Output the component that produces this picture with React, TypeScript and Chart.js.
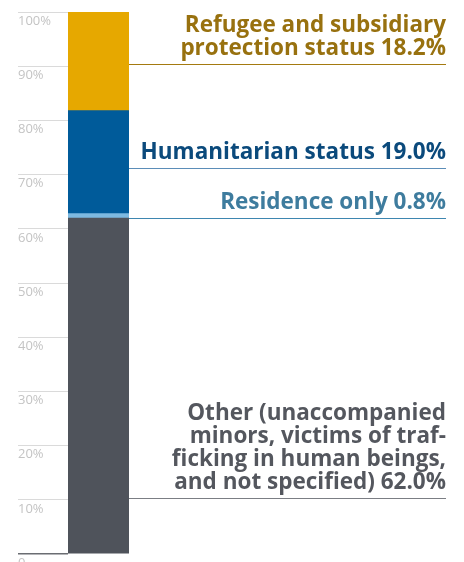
import { useEffect, useRef } from "react";
import { Chart, registerables } from "chart.js";

Chart.register(...registerables);

// ---- data ----
const categories = [""];
const seriesNames = [
  "Other",
  "Residence only",
  "Humanitarian status",
  "Refugee and subsidiary protection status",
];
const otherValues = [62.0];
const residenceValues = [0.8];
const humanitarianValues = [19.0];
const refugeeValues = [18.2];

const tickLabels = ["0", "10%", "20%", "30%", "40%", "50%", "60%", "70%", "80%", "90%", "100%"];

// callout texts (top to bottom) and the value at which each callout line sits
const calloutTexts = [
  ["Refugee and subsidiary", "protection status 18.2%"],
  ["Humanitarian status 19.0%"],
  ["Residence only 0.8%"],
  ["Other (unaccompanied", "minors, victims of traf-", "ficking in human beings,", "and not specified) 62.0%"],
];
const calloutAt = [90.4, 71.2, 62.0, 10.3];

// ---- styles ----
const barColors = ["#4F535B", "#7DB9E0", "#005B9A", "#E6A800"];
const textColors = ["#98710F", "#0B4A7C", "#3E7C9E", "#54575E"];
const lineColors = ["#A47A10", "#5B8DB8", "#3E86B0", "#7B7E84"];

const calloutPlugin = {
  id: "callouts",
  afterDatasetsDraw(chart: any) {
    const { ctx, chartArea, scales } = chart;
    const y = scales.y;
    const xEnd = 446;
    const lineH = 23;
    ctx.save();
    calloutTexts.forEach((lines, i) => {
      const py = Math.round(y.getPixelForValue(calloutAt[i])) + 0.5;
      ctx.strokeStyle = lineColors[i];
      ctx.lineWidth = 1.2;
      ctx.beginPath();
      ctx.moveTo(chartArea.right, py);
      ctx.lineTo(xEnd, py);
      ctx.stroke();
      ctx.fillStyle = textColors[i];
      ctx.font = "bold 22.5px 'Open Sans', sans-serif";
      ctx.textAlign = "right";
      ctx.textBaseline = "alphabetic";
      const n = lines.length;
      lines.forEach((t, j) => {
        ctx.fillText(t, xEnd, py - 9.5 - (n - 1 - j) * lineH);
      });
    });
    ctx.restore();
  },
};

export default function App() {
  const ref = useRef<HTMLCanvasElement | null>(null);
  useEffect(() => {
    if (!ref.current) return;
    const series = [otherValues, residenceValues, humanitarianValues, refugeeValues];
    const chart = new Chart(ref.current, {
      type: "bar",
      data: {
        labels: categories,
        datasets: series.map((vals, i) => ({
          label: seriesNames[i],
          data: vals,
          backgroundColor: barColors[i],
          borderWidth: 0,
          barPercentage: 1,
          categoryPercentage: 1,
        })),
      },
      options: {
        animation: false,
        responsive: false,
        maintainAspectRatio: false,
        layout: { padding: { left: 18, right: 335, top: 12, bottom: 26 } },
        plugins: { legend: { display: false }, tooltip: { enabled: false } },
        scales: {
          x: { stacked: true, display: false },
          y: {
            stacked: true,
            min: 0,
            max: 100,
            border: { display: false },
            afterFit(scale: any) {
              scale.width = 50;
            },
            grid: {
              drawOnChartArea: false,
              drawTicks: true,
              tickLength: 50,
              color: (c: any) => (c.tick && c.tick.value === 0 ? "#6A6D72" : "#DADADA"),
              lineWidth: (c: any) => (c.tick && c.tick.value === 0 ? 1.6 : 1),
            },
            ticks: {
              stepSize: 10,
              crossAlign: "far",
              labelOffset: 9,
              color: "#C4C4C4",
              font: { family: "'Open Sans', sans-serif", size: 13 },
              callback: (_v: any, idx: number) => tickLabels[idx],
            },
          },
        },
      },
      plugins: [calloutPlugin],
    } as any);
    return () => chart.destroy();
  }, []);
  return (
    <div style={{ position: "fixed", left: 0, top: 0, width: 464, height: 580 }}>
      <canvas ref={ref} width={464} height={580} style={{ width: 464, height: 580 }} />
    </div>
  );
}
